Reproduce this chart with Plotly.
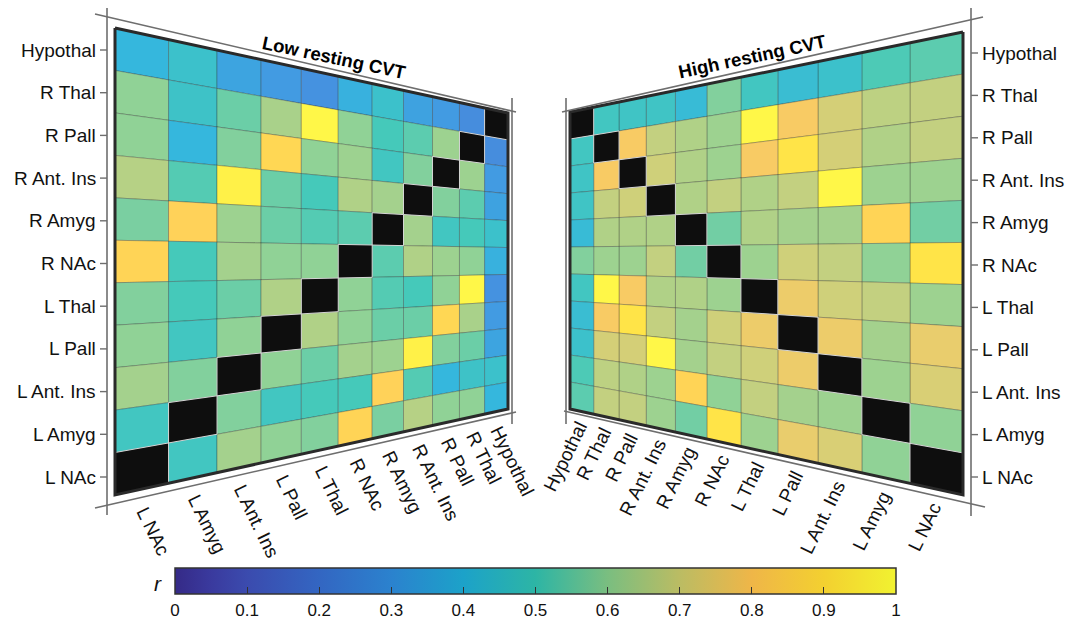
import math
import plotly.graph_objects as go
from plotly.colors import sample_colorscale, unlabel_rgb

# ---------------- data ----------------
LABELS = ["L NAc", "L Amyg", "L Ant. Ins", "L Pall", "L Thal",
          "R NAc", "R Amyg", "R Ant. Ins", "R Pall", "R Thal", "Hypothal"]

# correlation (r) matrices, rows/cols in LABELS order, diagonal = None
LOW_CVT = [
    [None, .48, .63, .60, .58, .84, .57, .66, .60, .60, .40],
    [.48, None, .58, .48, .50, .50, .83, .52, .40, .46, .45],
    [.63, .58, None, .60, .55, .63, .62, .94, .58, .55, .34],
    [.60, .48, .60, None, .65, .60, .55, .55, .85, .64, .31],
    [.58, .50, .55, .65, None, .60, .52, .50, .60, .96, .28],
    [.84, .50, .63, .60, .60, None, .53, .65, .62, .60, .38],
    [.57, .83, .62, .55, .52, .53, None, .63, .48, .50, .45],
    [.66, .52, .94, .55, .50, .65, .63, None, .58, .53, .33],
    [.60, .40, .58, .85, .60, .62, .48, .58, None, .62, .31],
    [.60, .46, .55, .64, .96, .60, .50, .53, .62, None, .26],
    [.40, .45, .34, .31, .28, .38, .45, .33, .31, .26, None],
]

HIGH_CVT = [
    [None, .60, .72, .75, .62, .90, .56, .62, .68, .68, .53],
    [.60, None, .62, .63, .68, .60, .84, .62, .65, .67, .51],
    [.72, .62, None, .76, .70, .68, .63, .96, .71, .71, .45],
    [.75, .63, .76, None, .76, .70, .63, .68, .90, .78, .43],
    [.62, .68, .70, .76, None, .62, .65, .65, .78, .96, .48],
    [.90, .60, .68, .70, .62, None, .56, .68, .62, .62, .58],
    [.56, .84, .63, .63, .65, .56, None, .65, .65, .65, .42],
    [.62, .62, .96, .68, .65, .68, .65, None, .70, .68, .47],
    [.68, .65, .71, .90, .78, .62, .65, .70, None, .78, .47],
    [.68, .67, .71, .78, .96, .62, .65, .68, .78, None, .48],
    [.53, .51, .45, .43, .48, .58, .42, .47, .47, .48, None],
]

TITLES = ["Low resting CVT", "High resting CVT"]
CB_TICKS = [0, 0.1, 0.2, 0.3, 0.4, 0.5, 0.6, 0.7, 0.8, 0.9, 1]
CB_TICKTEXT = ["0", "0.1", "0.2", "0.3", "0.4", "0.5", "0.6", "0.7", "0.8", "0.9", "1"]

# parula-like colour scale
CSCALE = [[0.00, "#352a87"], [0.05, "#3a3a9e"], [0.10, "#3b4bae"],
          [0.20, "#3366c2"], [0.30, "#2b82ce"], [0.40, "#1ca2c9"],
          [0.50, "#2db5a5"], [0.60, "#7abe80"], [0.70, "#bbbc63"],
          [0.80, "#efb648"], [0.90, "#f3d030"], [1.00, "#f1f230"]]

# ---------------- layout geometry (canvas in pixels) ----------------
W, H = 1078, 621
FONT = "Liberation Sans, Arial, Helvetica, sans-serif"
N = len(LABELS)
LABEL_SIZE = 19

# perspective panels: near (tall) edge and far (short) edge
PANELS = [
    dict(xn=115, xf=508, nt=28, nb=495, ft=113, fb=409),   # low CVT (left)
    dict(xn=963, xf=570, nt=32, nb=495, ft=112, fb=409),   # high CVT (right)
]


def proj(p, u, v):
    hn = p["nb"] - p["nt"]
    hf = p["fb"] - p["ft"]
    w = u * hn / ((1 - u) * hf + u * hn)
    x = p["xn"] + (p["xf"] - p["xn"]) * w
    yt = p["nt"] + (p["ft"] - p["nt"]) * w
    yb = p["nb"] + (p["fb"] - p["nb"]) * w
    return x, yt + v * (yb - yt)


def cell_color(val):
    # colour from the scale, with the lit/bright rendering of the 3D panels
    r, g, b = unlabel_rgb(sample_colorscale(CSCALE, [val])[0])
    lit = [min(255.0, c * 1.08) * 0.9 + 25.5 for c in (r, g, b)]
    return "rgb(%d,%d,%d)" % tuple(int(round(c)) for c in lit)


fig = go.Figure()

for p, mat in zip(PANELS, [LOW_CVT, HIGH_CVT]):
    diag_cells = []
    for r in range(N):          # row from top -> label index N-1-r
        i = N - 1 - r
        for k in range(N):      # column label index k, from near edge
            val = mat[i][k]
            pts = [proj(p, k / N, r / N), proj(p, (k + 1) / N, r / N),
                   proj(p, (k + 1) / N, (r + 1) / N), proj(p, k / N, (r + 1) / N)]
            xs = [q[0] for q in pts] + [pts[0][0]]
            ys = [q[1] for q in pts] + [pts[0][1]]
            if val is None:
                diag_cells.append((xs, ys))
                continue
            fig.add_trace(go.Scatter(
                x=xs, y=ys, mode="lines", fill="toself",
                fillcolor=cell_color(val),
                line=dict(color="rgba(40,40,40,0.30)", width=1),
                hoverinfo="skip", showlegend=False))
    for xs, ys in diag_cells:
        fig.add_trace(go.Scatter(
            x=xs, y=ys, mode="lines", fill="toself", fillcolor="#0e0e0e",
            line=dict(color="rgba(235,235,235,0.85)", width=1),
            hoverinfo="skip", showlegend=False))
    # thick outer border
    corners = [proj(p, 0, 0), proj(p, 1, 0), proj(p, 1, 1), proj(p, 0, 1), proj(p, 0, 0)]
    fig.add_trace(go.Scatter(
        x=[c[0] for c in corners], y=[c[1] for c in corners], mode="lines",
        line=dict(color="#2a2a2a", width=3), hoverinfo="skip", showlegend=False))

# ---------------- sketched frames ----------------
FRAMES = [
    # left panel
    [((95, 14), (516, 112)), ((95, 508), (516, 412)),
     ((107, 8), (107, 515)), ((512, 98), (512, 424))],
    # right panel
    [((562, 112), (983, 17)), ((564, 411), (985, 507)),
     ((971, 8), (971, 516)), ((566, 98), (566, 424))],
]
for segs in FRAMES:
    fx, fy = [], []
    for (a, b) in segs:
        fx += [a[0], b[0], None]
        fy += [a[1], b[1], None]
    fig.add_trace(go.Scatter(x=fx, y=fy, mode="lines",
                             line=dict(color="#6e6e6e", width=1.6),
                             hoverinfo="skip", showlegend=False))


def frame_bottom_y(seg, x):
    (x0, y0), (x1, y1) = seg
    return y0 + (y1 - y0) * (x - x0) / (x1 - x0)


annotations = []
tick_x, tick_y = [], []

# row labels + ticks
for r in range(N):
    lab = LABELS[N - 1 - r]
    yl = 50 + 42.7 * r
    yr = 53 + 42.4 * r
    annotations.append(dict(x=97, y=yl, text=lab, showarrow=False, xanchor="right",
                            yanchor="middle", borderpad=0,
                            font=dict(size=LABEL_SIZE, family=FONT, color="#111")))
    annotations.append(dict(x=981, y=yr, text=lab, showarrow=False, xanchor="left",
                            yanchor="middle", borderpad=0,
                            font=dict(size=LABEL_SIZE, family=FONT, color="#111")))
    tick_x += [100, 107, None, 971, 978, None]
    tick_y += [yl, yl, None, yr, yr, None]

fig.add_trace(go.Scatter(x=tick_x, y=tick_y, mode="lines",
                         line=dict(color="#6e6e6e", width=1.4),
                         hoverinfo="skip", showlegend=False))

# column labels (rotated)
ANG = 64
hs = 10 * math.sin(math.radians(ANG))
for k in range(N):
    # left panel
    xc, _ = proj(PANELS[0], (k + 0.5) / N, 1)
    yb = frame_bottom_y(FRAMES[0][1], xc)
    annotations.append(dict(x=xc - 2 - hs, y=yb + 5, text=LABELS[k], showarrow=False,
                            textangle=ANG, xanchor="left", yanchor="top", borderpad=0,
                            font=dict(size=LABEL_SIZE, family=FONT, color="#111")))
    # right panel
    xc, _ = proj(PANELS[1], (k + 0.5) / N, 1)
    yb = frame_bottom_y(FRAMES[1][1], xc)
    annotations.append(dict(x=xc + 2 + hs, y=yb + 2, text=LABELS[k], showarrow=False,
                            textangle=-ANG, xanchor="right", yanchor="top", borderpad=0,
                            font=dict(size=LABEL_SIZE, family=FONT, color="#111")))

# titles
annotations.append(dict(x=334, y=57, text=TITLES[0], showarrow=False, textangle=12,
                        font=dict(size=18.5, family=FONT, color="#000", weight="bold")))
annotations.append(dict(x=752, y=56, text=TITLES[1], showarrow=False, textangle=-12,
                        font=dict(size=18.5, family=FONT, color="#000", weight="bold")))
# colour bar label
annotations.append(dict(x=158, y=583, text="<i>r</i>", showarrow=False,
                        font=dict(size=21, family=FONT, color="#111")))

# colour bar
fig.add_trace(go.Scatter(
    x=[-100], y=[-100], mode="markers",
    marker=dict(color=[0.5], colorscale=CSCALE, cmin=0, cmax=1, showscale=True,
                colorbar=dict(orientation="h", x=175 / W, xanchor="left",
                              y=1 - 568 / H, yanchor="top",
                              len=721 / W, lenmode="fraction",
                              thickness=26, thicknessmode="pixels",
                              xpad=0, ypad=0, outlinewidth=1.5, outlinecolor="#333",
                              ticks="inside", ticklen=7, tickwidth=1.3, tickcolor="#333",
                              tickvals=CB_TICKS, ticktext=CB_TICKTEXT,
                              tickfont=dict(size=17, family=FONT, color="#111"))),
    hoverinfo="skip", showlegend=False))

fig.update_layout(
    width=W, height=H, margin=dict(l=0, r=0, t=0, b=0, autoexpand=False),
    paper_bgcolor="white", plot_bgcolor="white",
    xaxis=dict(range=[0, W], visible=False, fixedrange=True),
    yaxis=dict(range=[H, 0], visible=False, fixedrange=True),
    annotations=annotations, showlegend=False,
)

fig.write_html("out.html", config={"displayModeBar": False},
               post_script="document.body.style.margin='0';document.body.style.overflow='hidden';")
